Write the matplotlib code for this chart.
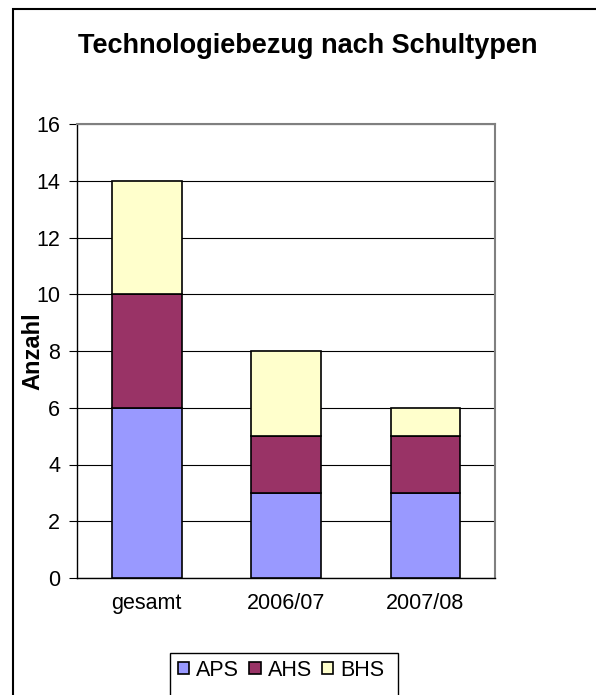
import matplotlib.pyplot as plt
from matplotlib.patches import Rectangle
import numpy as np

plt.rcParams['font.family'] = ['Liberation Sans', 'DejaVu Sans']

# Data
categories = ['gesamt', '2006/07', '2007/08']
aps = [6, 3, 3]
ahs = [4, 2, 2]
bhs = [4, 3, 1]
series_names = ['APS', 'AHS', 'BHS']
colors = ['#9999FF', '#993366', '#FFFFCC']

W, H = 596, 695
fig = plt.figure(figsize=(W / 100, H / 100), dpi=100)

# plot area in pixel coords
left, right, top, bottom = 77, 495, 124, 578
ax = fig.add_axes([left / W, 1 - bottom / H, (right - left) / W, (bottom - top) / H])

x = np.arange(len(categories))
base = np.zeros(len(categories))
handles = []
for vals, name, col in zip([aps, ahs, bhs], series_names, colors):
    b = ax.bar(x, vals, bottom=base, width=0.5, color=col, edgecolor='black',
               linewidth=1.2, label=name, zorder=3)
    handles.append(b)
    base = base + np.array(vals)

ax.set_xlim(-0.5, 2.5)
ax.set_ylim(0, 16)
ax.set_yticks(range(0, 17, 2))
ax.set_xticks(x)
ax.set_xticklabels(categories)
ax.yaxis.grid(True, color='black', linewidth=0.8, zorder=0)
ax.set_axisbelow(True)

ax.tick_params(axis='y', length=6, width=0.8, pad=6, labelsize=15.5, direction='out')
ax.tick_params(axis='x', length=0, pad=11, labelsize=15.5)

for side in ['top', 'right']:
    ax.spines[side].set_color('#808080')
    ax.spines[side].set_linewidth(1.5)
for side in ['left', 'bottom']:
    ax.spines[side].set_color('black')
    ax.spines[side].set_linewidth(1.0)

fig.text(307.5 / W, 1 - 46 / H, 'Technologiebezug nach Schultypen',
         ha='center', va='center', fontsize=19.5, fontweight='bold')
fig.text(33 / W, 1 - 351 / H, 'Anzahl', ha='center', va='center',
         rotation=90, fontsize=17, fontweight='bold')

# outer chart border
fig.patches.append(Rectangle((13 / W, -0.05), 1.0, 1 - 9 / H + 0.05,
                             transform=fig.transFigure, fill=False,
                             edgecolor='black', linewidth=1.5))

# legend
leg = fig.legend(handles=handles, labels=series_names, loc='center left',
                 bbox_to_anchor=(178 / W, 1 - 670 / H), ncol=3, frameon=False,
                 fontsize=15.5, handlelength=0.52, handleheight=0.52,
                 handletextpad=0.33, columnspacing=0.47, borderpad=0,
                 borderaxespad=0)
for p in leg.get_patches():
    p.set_edgecolor('black')
    p.set_linewidth(1.2)
fig.patches.append(Rectangle((170 / W, -0.05), (398 - 170) / W, 1 - 653 / H + 0.05,
                             transform=fig.transFigure, fill=False,
                             edgecolor='black', linewidth=1.0))

fig.savefig('out.png', dpi=100)
